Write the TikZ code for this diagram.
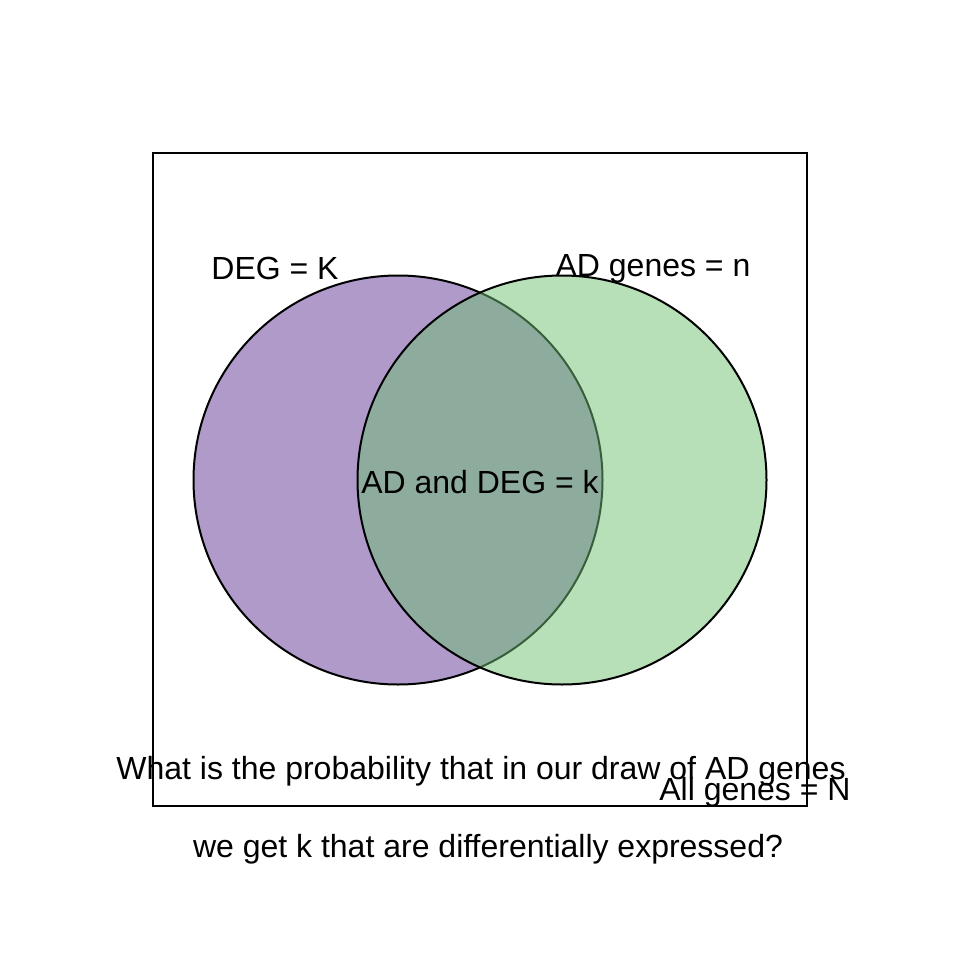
\documentclass[tikz,border=0pt]{standalone}
\usepackage{fontspec}
\setmainfont{Liberation Sans}
\definecolor{degfill}{HTML}{AF9ACA}
\definecolor{adfill}{HTML}{6FBF71}
\begin{document}
\begin{tikzpicture}[x=0.75pt,y=-0.75pt,
  lbl/.style={inner sep=0pt,font=\fontsize{24}{28}\selectfont},
  setcircle/.style={draw=black,line width=1.5pt}]
\useasboundingbox (0,0) rectangle (960,960);
\node[draw=black,line width=1.1pt,minimum width=654*0.75pt,minimum height=653*0.75pt,inner sep=0pt] (all) at (480,479.5) {};
\draw[setcircle,fill=degfill] (398,480) circle[radius=204.5];
\draw[setcircle,fill=adfill,fill opacity=0.5] (562,480) circle[radius=204.5];
\node[lbl] (deg) at (275,268) {DEG = K};
\node[lbl] (ad) at (653,269) {AD genes = n};
\node[lbl] (both) at (480,482) {AD and DEG = k};
\node[lbl] (q1) at (481,771) {What is the probability that in our draw of AD genes};
\node[lbl] (alln) at (755,792) {All genes = N};
\node[lbl] (q2) at (488,849) {we get k that are differentially expressed?};
\end{tikzpicture}
\end{document}
